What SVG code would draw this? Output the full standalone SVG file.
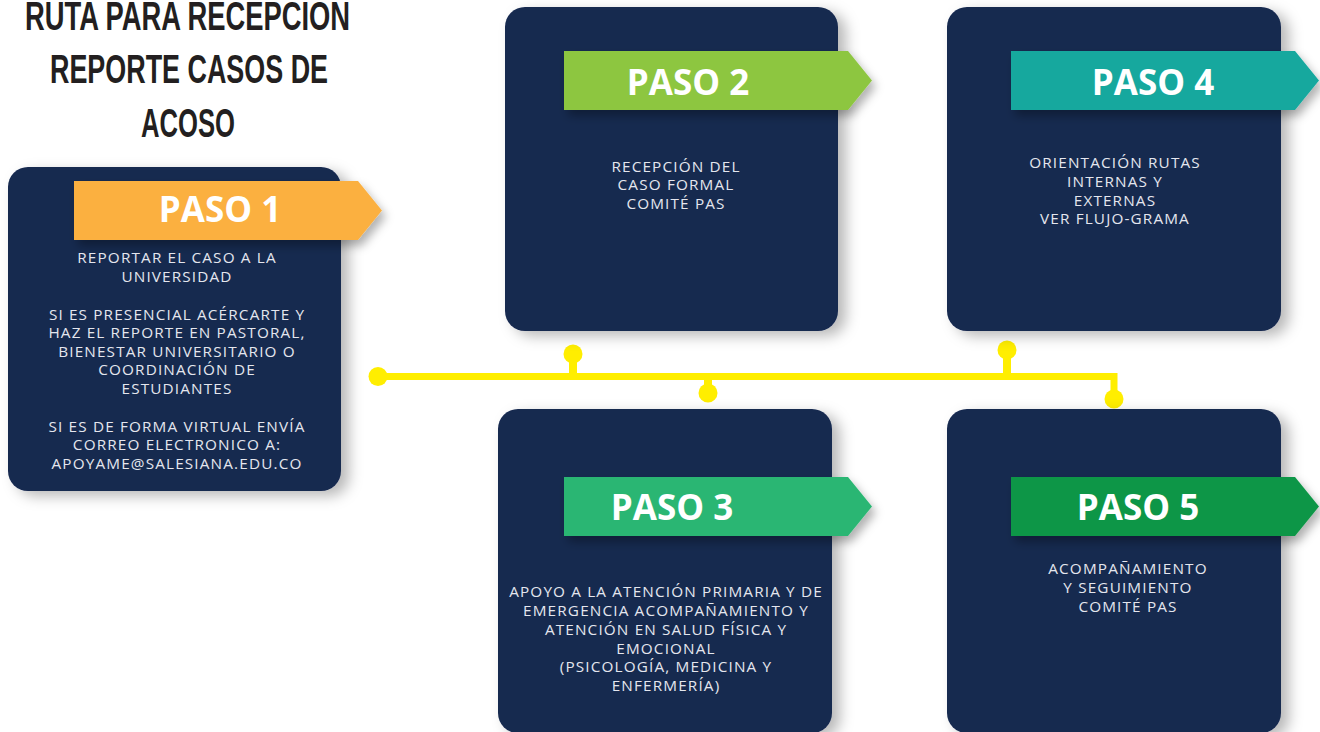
<svg xmlns="http://www.w3.org/2000/svg" width="1320" height="732" viewBox="0 0 1320 732">
<defs>
<filter id="sh" x="-20%" y="-20%" width="150%" height="150%">
<feDropShadow dx="8" dy="5" stdDeviation="7" flood-color="#000" flood-opacity="0.28"/>
</filter>
<filter id="bsh" x="-20%" y="-30%" width="150%" height="180%">
<feDropShadow dx="4" dy="6" stdDeviation="5" flood-color="#000" flood-opacity="0.3"/>
</filter>
</defs>
<style>
.card{fill:#172950;filter:url(#sh)}
.ban{filter:url(#bsh)}
.head{font-family:"Open Sans",sans-serif;font-weight:700;font-size:35px;fill:#fff;text-anchor:middle}
.body{font-family:"Open Sans",sans-serif;font-size:15.3px;fill:#e4e6ee;text-anchor:middle;letter-spacing:1.15px}
.title{font-family:"Liberation Sans",sans-serif;font-weight:700;font-size:40px;fill:#231f20}
.yl{stroke:#ffee00;fill:none}
.dot{fill:#ffee00}
</style>
<rect width="1320" height="732" fill="#fff"/>
<g id="title">
<text class="title" x="25" y="30" textLength="325" lengthAdjust="spacingAndGlyphs">RUTA PARA RECEPCION</text>
<text class="title" x="50" y="83" textLength="278" lengthAdjust="spacingAndGlyphs">REPORTE CASOS DE</text>
<text class="title" x="141" y="137" textLength="94" lengthAdjust="spacingAndGlyphs">ACOSO</text>
</g>
<g id="connectors">
<path class="yl" stroke-width="7" d="M378 376.5 H1114 V399"/>
<path class="yl" stroke-width="8" d="M573 376 V354 M708 377 V393 M1007 376 V350"/>
<circle class="dot" cx="378" cy="376.5" r="9.5"/>
<circle class="dot" cx="573" cy="354" r="9.5"/>
<circle class="dot" cx="708" cy="393" r="9.5"/>
<circle class="dot" cx="1007" cy="350" r="9.5"/>
<circle class="dot" cx="1114" cy="399" r="9.5"/>
</g>
<g id="paso1">
<rect class="card" x="8" y="167" width="333" height="324" rx="20"/>
<polygon class="ban" fill="#fbb040" points="74,181 358,181 382,210.5 358,240 74,240"/>
<text class="head" x="220" y="222">PASO 1</text>
<text class="body" x="177" y="263">REPORTAR EL CASO A LA</text>
<text class="body" x="177" y="282">UNIVERSIDAD</text>
<text class="body" x="177" y="320">SI ES PRESENCIAL ACÉRCARTE Y</text>
<text class="body" x="177" y="338">HAZ EL REPORTE EN PASTORAL,</text>
<text class="body" x="177" y="357">BIENESTAR UNIVERSITARIO O</text>
<text class="body" x="177" y="375">COORDINACIÓN DE</text>
<text class="body" x="177" y="394">ESTUDIANTES</text>
<text class="body" x="177" y="432">SI ES DE FORMA VIRTUAL ENVÍA</text>
<text class="body" x="177" y="450">CORREO ELECTRONICO A:</text>
<text class="body" x="177" y="469">APOYAME@SALESIANA.EDU.CO</text>
</g>
<g id="paso2">
<rect class="card" x="505" y="7" width="333" height="324" rx="20"/>
<polygon class="ban" fill="#8dc63f" points="564,51 848,51 872,80.5 848,110 564,110"/>
<text class="head" x="688" y="95">PASO 2</text>
<text class="body" x="676" y="172">RECEPCIÓN DEL</text>
<text class="body" x="676" y="190">CASO FORMAL</text>
<text class="body" x="676" y="209">COMITÉ PAS</text>
</g>
<g id="paso4">
<rect class="card" x="947" y="7" width="334" height="324" rx="20"/>
<polygon class="ban" fill="#13a89e" points="1011,51 1295,51 1319,80.5 1295,110 1011,110"/>
<text class="head" x="1153" y="95">PASO 4</text>
<text class="body" x="1115" y="168">ORIENTACIÓN RUTAS</text>
<text class="body" x="1115" y="187">INTERNAS Y</text>
<text class="body" x="1115" y="206">EXTERNAS</text>
<text class="body" x="1115" y="224">VER FLUJO-GRAMA</text>
</g>
<g id="paso3">
<rect class="card" x="498" y="409" width="334" height="324" rx="20"/>
<polygon class="ban" fill="#2bb673" points="564,477 848,477 872,506.5 848,536 564,536"/>
<text class="head" x="672" y="520">PASO 3</text>
<text class="body" x="666" y="597">APOYO A LA ATENCIÓN PRIMARIA Y DE</text>
<text class="body" x="666" y="616">EMERGENCIA ACOMPAÑAMIENTO Y</text>
<text class="body" x="666" y="635">ATENCIÓN EN SALUD FÍSICA Y</text>
<text class="body" x="666" y="654">EMOCIONAL</text>
<text class="body" x="666" y="672">(PSICOLOGÍA, MEDICINA Y</text>
<text class="body" x="666" y="691">ENFERMERÍA)</text>
</g>
<g id="paso5">
<rect class="card" x="947" y="409" width="334" height="324" rx="20"/>
<polygon class="ban" fill="#0e9646" points="1011,477 1295,477 1319,506.5 1295,536 1011,536"/>
<text class="head" x="1138" y="520">PASO 5</text>
<text class="body" x="1128" y="574">ACOMPAÑAMIENTO</text>
<text class="body" x="1128" y="593">Y SEGUIMIENTO</text>
<text class="body" x="1128" y="612">COMITÉ PAS</text>
</g>
</svg>
